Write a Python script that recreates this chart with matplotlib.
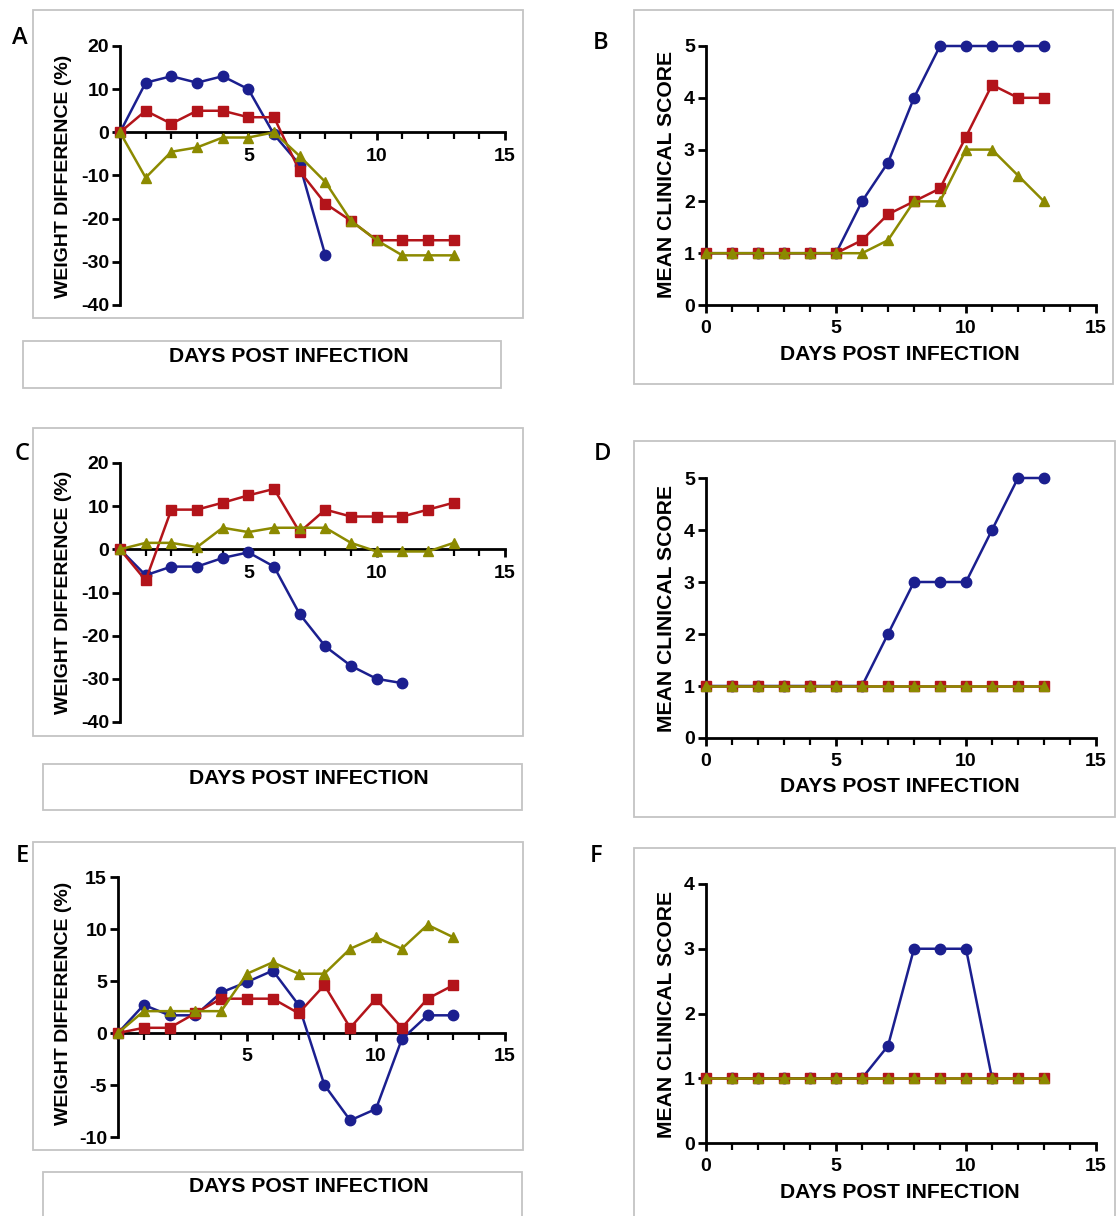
import matplotlib
matplotlib.use("Agg")
import matplotlib.pyplot as plt
from matplotlib.patches import Rectangle
from matplotlib.ticker import MultipleLocator

plt.rcParams['font.family'] = ['Liberation Sans', 'DejaVu Sans']
plt.rcParams['axes.unicode_minus'] = False

# === Data ===
days = [0, 1, 2, 3, 4, 5, 6, 7, 8, 9, 10, 11, 12, 13]

# A: weight difference (%)
a_blue = [0, 11.5, 13, 11.5, 13, 10, -0.5, -7.5, -28.5]
a_red = [0, 5, 2, 5, 5, 3.5, 3.5, -9, -16.5, -20.5, -25, -25, -25, -25]
a_green = [0, -10.5, -4.5, -3.5, -1.2, -1.2, 0, -5.5, -11.5, -20.5, -25, -28.5, -28.5, -28.5]

# B: mean clinical score
b_blue = [1, 1, 1, 1, 1, 1, 2, 2.75, 4, 5, 5, 5, 5, 5]
b_red = [1, 1, 1, 1, 1, 1, 1.25, 1.75, 2, 2.25, 3.25, 4.25, 4, 4]
b_green = [1, 1, 1, 1, 1, 1, 1, 1.25, 2, 2, 3, 3, 2.5, 2]

# C: weight difference (%)
c_blue = [0, -6, -4, -4, -2, -0.7, -4, -15, -22.5, -27, -30, -31]
c_red = [0, -7.2, 9.2, 9.2, 10.8, 12.5, 14, 4, 9.2, 7.6, 7.6, 7.6, 9.2, 10.8]
c_green = [0, 1.5, 1.5, 0.5, 5, 4, 5, 5, 5, 1.5, -0.5, -0.5, -0.5, 1.5]

# D: mean clinical score
d_blue = [1, 1, 1, 1, 1, 1, 1, 2, 3, 3, 3, 4, 5, 5]
d_red = [1, 1, 1, 1, 1, 1, 1, 1, 1, 1, 1, 1, 1, 1]
d_green = [1, 1, 1, 1, 1, 1, 1, 1, 1, 1, 1, 1, 1, 1]

# E: weight difference (%)
e_blue = [0, 2.7, 1.7, 1.7, 3.9, 4.9, 6, 2.7, -5, -8.4, -7.3, -0.6, 1.7, 1.7]
e_red = [0, 0.5, 0.5, 1.9, 3.3, 3.3, 3.3, 1.9, 4.6, 0.5, 3.3, 0.5, 3.3, 4.6]
e_green = [0, 2.1, 2.1, 2.1, 2.1, 5.7, 6.8, 5.7, 5.7, 8.1, 9.2, 8.1, 10.4, 9.2]

# F: mean clinical score
f_blue = [1, 1, 1, 1, 1, 1, 1, 1.5, 3, 3, 3, 1]
f_red = [1, 1, 1, 1, 1, 1, 1, 1, 1, 1, 1, 1, 1, 1]
f_green = [1, 1, 1, 1, 1, 1, 1, 1, 1, 1, 1, 1, 1, 1]

BLUE = "#1b1f8f"
RED = "#b3141a"
GREEN = "#8c8a00"

W, H = 1116, 1216
fig = plt.figure(figsize=(W / 100, H / 100), dpi=100)


def rect(x0, y0, x1, y1):
    return [x0 / W, 1 - y1 / H, (x1 - x0) / W, (y1 - y0) / H]


def frame(x0, y0, x1, y1):
    fig.patches.append(Rectangle((x0 / W, 1 - y1 / H), (x1 - x0) / W, (y1 - y0) / H,
                                 transform=fig.transFigure, fill=False,
                                 edgecolor="#c4c4c4", linewidth=1.3))


def ftext(x, y, s, **kw):
    fig.text(x / W, 1 - y / H, s, ha="center", va="center", **kw)


def draw(ax, blue, red, green, ylim, ystep, weight):
    ax.plot(days[:len(blue)], blue, color=BLUE, marker="o", ms=7.5, lw=1.8, clip_on=False, zorder=3)
    ax.plot(days[:len(red)], red, color=RED, marker="s", ms=7.3, lw=1.8, clip_on=False, zorder=4)
    ax.plot(days[:len(green)], green, color=GREEN, marker="^", ms=7.5, lw=1.8, clip_on=False, zorder=5)
    ax.set_xlim(0, 15)
    ax.set_ylim(*ylim)
    ax.yaxis.set_major_locator(MultipleLocator(ystep))
    ax.xaxis.set_major_locator(MultipleLocator(5))
    ax.xaxis.set_minor_locator(MultipleLocator(1))
    for s in ["top", "right"]:
        ax.spines[s].set_visible(False)
    for s in ["left", "bottom"]:
        ax.spines[s].set_linewidth(2.0)
    if weight:
        ax.spines["bottom"].set_position(("data", 0))
        ax.set_xticks([5, 10, 15])
    ax.tick_params(axis="both", which="major", width=2, length=6, labelsize=14, pad=2)
    ax.tick_params(axis="x", which="major", pad=5)
    ax.tick_params(axis="x", which="minor", width=1.6, length=5)
    for lab in ax.get_xticklabels() + ax.get_yticklabels():
        lab.set_fontweight("bold")
    ax.patch.set_alpha(0)


# frames
frame(33, 10, 523, 318)
frame(23, 341, 501, 388)
frame(634, 10, 1113, 384)
frame(33, 428, 523, 736)
frame(43, 764, 522, 810)
frame(634, 441, 1115, 817)
frame(33, 842, 523, 1150)
frame(43, 1172, 522, 1222)
frame(634, 848, 1115, 1222)

axA = fig.add_axes(rect(120, 46, 505, 305))
draw(axA, a_blue, a_red, a_green, (-40, 20), 10, True)
axB = fig.add_axes(rect(706, 46, 1096, 305))
draw(axB, b_blue, b_red, b_green, (0, 5), 1, False)
axC = fig.add_axes(rect(120, 463, 505, 722))
draw(axC, c_blue, c_red, c_green, (-40, 20), 10, True)
axD = fig.add_axes(rect(706, 478, 1096, 738))
draw(axD, d_blue, d_red, d_green, (0, 5), 1, False)
axE = fig.add_axes(rect(118, 877, 505, 1137))
draw(axE, e_blue, e_red, e_green, (-10, 15), 5, True)
axF = fig.add_axes(rect(706, 884, 1096, 1143))
draw(axF, f_blue, f_red, f_green, (0, 4), 1, False)

lab_kw = dict(fontsize=15.2, fontweight="bold")
wlab_kw = dict(fontsize=14, fontweight="bold")
# y labels
ftext(64, 176, "WEIGHT DIFFERENCE (%)", rotation=90, **wlab_kw)
ftext(64, 592, "WEIGHT DIFFERENCE (%)", rotation=90, **wlab_kw)
ftext(64, 1003, "WEIGHT DIFFERENCE (%)", rotation=90, **wlab_kw)
ftext(666, 174, "MEAN CLINICAL SCORE", rotation=90, **lab_kw)
ftext(666, 608, "MEAN CLINICAL SCORE", rotation=90, **lab_kw)
ftext(666, 1014, "MEAN CLINICAL SCORE", rotation=90, **lab_kw)
# x labels
ftext(289, 357, "DAYS POST INFECTION", **lab_kw)
ftext(309, 779, "DAYS POST INFECTION", **lab_kw)
ftext(309, 1187, "DAYS POST INFECTION", **lab_kw)
ftext(900, 354, "DAYS POST INFECTION", **lab_kw)
ftext(900, 787, "DAYS POST INFECTION", **lab_kw)
ftext(900, 1192, "DAYS POST INFECTION", **lab_kw)

# panel letters
let_kw = dict(fontsize=17, fontweight="semibold", family=["Open Sans", "DejaVu Sans"])
ftext(20, 38, "A", **let_kw)
ftext(601, 43, "B", **let_kw)
ftext(22, 454, "C", **let_kw)
ftext(602, 454, "D", **let_kw)
ftext(22, 856, "E", **let_kw)
ftext(596, 856, "F", **let_kw)

fig.savefig("out.png", dpi=100)
